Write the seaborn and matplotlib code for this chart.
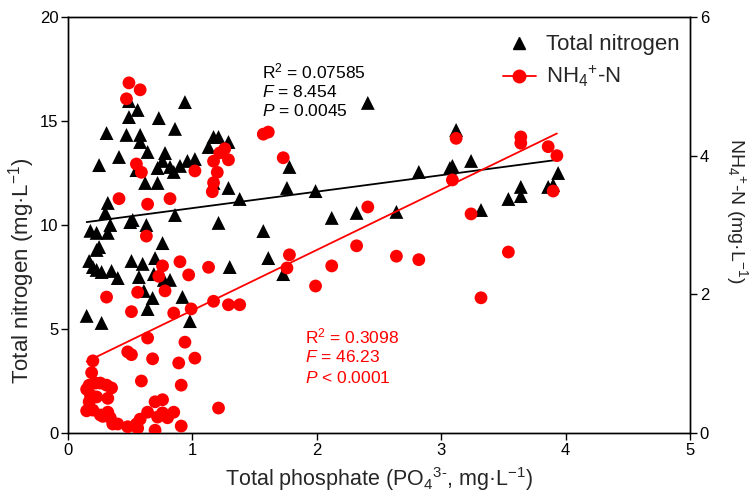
import matplotlib
matplotlib.use("Agg")
import matplotlib.pyplot as plt
from matplotlib.lines import Line2D
import seaborn as sns
import pandas as pd

# ---- data ----
tp_tn = [0.49, 0.56, 0.49, 0.73, 0.94, 0.31, 0.47, 0.58, 0.58, 0.86, 0.64, 0.41, 0.25, 0.78,
         0.76, 0.82, 0.72, 0.55, 0.90, 0.96, 1.02, 0.85, 0.62, 0.72, 1.17, 1.21, 1.13, 1.29,
         1.17, 1.29, 1.38, 0.32, 0.30, 0.18, 0.23, 0.34, 0.32, 0.50, 0.52, 0.63, 0.86, 1.21,
         1.57, 0.25, 0.23, 0.76, 0.17, 0.20, 0.23, 0.27, 0.35, 0.40, 0.51, 0.60, 0.70, 0.57,
         0.69, 0.77, 0.82, 0.61, 0.68, 0.64, 0.92, 0.98, 1.30, 1.61, 0.15, 0.27, 2.41, 1.78,
         1.76, 1.99, 2.82, 3.07, 2.12, 2.32, 2.64, 1.73, 3.12, 3.09, 3.24, 3.94, 3.86, 3.90,
         3.64, 3.64, 3.54, 3.32]
tn = [15.96, 15.53, 15.19, 15.14, 15.91, 14.42, 14.33, 14.33, 13.99, 14.62, 13.51, 13.27, 12.88, 13.46,
      13.08, 12.79, 12.74, 12.64, 12.84, 13.08, 13.17, 12.55, 12.02, 12.02, 14.23, 14.23, 13.75, 13.99,
      12.02, 11.78, 11.25, 11.06, 10.58, 9.72, 9.62, 10.00, 9.62, 10.14, 10.24, 10.00, 10.48, 10.10,
      9.71, 8.94, 8.80, 9.13, 8.27, 7.98, 7.84, 7.74, 7.79, 7.45, 8.27, 8.13, 8.41, 7.50,
      7.64, 7.36, 7.36, 6.83, 6.49, 5.96, 6.54, 5.38, 7.98, 8.41, 5.63, 5.29, 15.87, 12.79,
      11.78, 11.63, 12.55, 12.74, 10.34, 10.58, 10.63, 7.64, 14.57, 12.84, 13.08, 12.50, 11.83, 11.92,
      11.83, 11.39, 11.25, 10.72]

tp_nh4 = [0.49, 0.58, 0.47, 1.57, 1.61, 1.26, 1.22, 1.17, 1.29, 1.20, 1.02, 1.17, 1.16, 0.55,
          0.59, 1.73, 0.41, 0.64, 0.82, 2.41, 0.63, 0.76, 0.90, 1.13, 0.97, 0.73, 0.78, 0.56,
          0.31, 0.51, 0.85, 0.99, 1.17, 1.29, 1.38, 1.78, 1.76, 1.99, 2.12, 2.32, 2.64, 2.82,
          3.12, 3.64, 3.64, 3.86, 3.93, 3.09, 3.24, 3.90, 3.54, 3.32, 0.64, 0.94, 0.48, 0.51,
          0.68, 1.02, 0.89, 0.20, 0.19, 0.59, 0.91, 1.21, 0.17, 0.22, 0.26, 0.31, 0.35, 0.15,
          0.18, 0.23, 0.32, 0.17, 0.15, 0.20, 0.26, 0.32, 0.34, 0.36, 0.40, 0.48, 0.56, 0.58,
          0.64, 0.70, 0.76, 0.72, 0.70, 0.76, 0.80, 0.85, 0.91, 0.55, 0.28]
nh4 = [5.05, 4.95, 4.82, 4.31, 4.34, 4.10, 4.04, 3.92, 3.94, 3.76, 3.78, 3.61, 3.48, 3.88,
       3.76, 3.97, 3.38, 3.30, 3.38, 3.26, 2.84, 2.41, 2.47, 2.39, 2.28, 2.26, 2.05, 2.03,
       1.96, 1.75, 1.73, 1.79, 1.90, 1.85, 1.85, 2.57, 2.38, 2.12, 2.41, 2.70, 2.55, 2.50,
       4.25, 4.27, 4.18, 4.13, 4.00, 3.65, 3.16, 3.49, 2.61, 1.95, 1.37, 1.31, 1.17, 1.13,
       1.07, 1.08, 1.01, 1.04, 0.87, 0.75, 0.69, 0.36, 0.69, 0.72, 0.72, 0.69, 0.65, 0.63,
       0.55, 0.52, 0.50, 0.45, 0.32, 0.33, 0.26, 0.30, 0.22, 0.13, 0.13, 0.09, 0.07, 0.20,
       0.30, 0.45, 0.48, 0.23, 0.04, 0.29, 0.22, 0.30, 0.10, 0.13, 0.24]

# fitted regression lines (end points over the data range)
fit_tp = [0.15, 3.93]
tn_fit = [10.14, 13.13]
nh4_fit = [1.03, 4.32]

x_ticks = [0, 1, 2, 3, 4, 5]
tn_ticks = [0, 5, 10, 15, 20]
nh4_ticks = [0, 2, 4, 6]

tn_stats = ["R$^2$ = 0.07585", "$F$ = 8.454", "$P$ = 0.0045"]
nh4_stats = ["R$^2$ = 0.3098", "$F$ = 46.23", "$P$ < 0.0001"]

df_tn = pd.DataFrame({"tp": tp_tn, "tn": tn})
df_nh4 = pd.DataFrame({"tp": tp_nh4, "nh4": nh4})
df_fit = pd.DataFrame({"tp": fit_tp, "tn": tn_fit, "nh4": nh4_fit})

# ---- style ----
sns.set_theme(style="ticks")
plt.rcParams["font.family"] = ["Liberation Sans", "DejaVu Sans"]
plt.rcParams["mathtext.fontset"] = "custom"
plt.rcParams["mathtext.rm"] = "Liberation Sans"
plt.rcParams["mathtext.it"] = "Liberation Sans:italic"
plt.rcParams["mathtext.bf"] = "Liberation Sans:bold"
plt.rcParams["axes.linewidth"] = 1.0

fig = plt.figure(figsize=(7.5, 4.93), dpi=100)
ax = fig.add_axes([68 / 750, 1 - 433 / 493, 622 / 750, 416 / 493])
ax2 = ax.twinx()

sns.scatterplot(data=df_tn, x="tp", y="tn", ax=ax, marker="^", s=100, color="black",
                edgecolor="none", linewidth=0, zorder=3)
sns.lineplot(data=df_fit, x="tp", y="tn", ax=ax, color="black", lw=1.3, zorder=4)

sns.scatterplot(data=df_nh4, x="tp", y="nh4", ax=ax2, marker="o", s=85, color="#ff0000",
                edgecolor="none", linewidth=0, zorder=3)
sns.lineplot(data=df_fit, x="tp", y="nh4", ax=ax2, color="#ff0000", lw=1.3, zorder=4)

ax.set_xlim(0, 5)
ax.set_ylim(0, 20)
ax2.set_ylim(0, 6)
ax.set_xticks(x_ticks)
ax.set_yticks(tn_ticks)
ax2.set_yticks(nh4_ticks)
ax.set_xticklabels([str(v) for v in x_ticks])
ax.set_yticklabels([str(v) for v in tn_ticks])
ax2.set_yticklabels([str(v) for v in nh4_ticks])

for a in (ax, ax2):
    a.tick_params(direction="out", length=5, width=1, labelsize=12, colors="black", pad=2)
    for sp in a.spines.values():
        sp.set_visible(True)
        sp.set_color("black")
        sp.set_linewidth(1.0)

ax.set_xlabel("Total phosphate (PO$_4$$^{3\\text{-}}$, mg·L$^{-1}$)", fontsize=15.5, labelpad=5)
ax.set_ylabel("Total nitrogen (mg·L$^{-1}$)", fontsize=16, va="center")
ax.yaxis.set_label_coords(-0.074, 0.39)
ax2.set_ylabel("NH$_4$$^{+}$-N (mg·L$^{-1}$)", fontsize=14, rotation=-90, va="center")
ax2.yaxis.set_label_coords(1.075, 0.535)

for i, t in enumerate(tn_stats):
    ax.text(1.56, 17.36 - i * 0.95, t, fontsize=12.5, color="black", va="center", ha="left")
for i, t in enumerate(nh4_stats):
    ax.text(1.905, 4.66 - i * 1.0, t, fontsize=12.5, color="#ff0000", va="center", ha="left")

handles = [
    Line2D([], [], color="black", marker="^", linestyle="none", markersize=9),
    Line2D([], [], color="#ff0000", marker="o", linestyle="-", lw=1.3, markersize=9),
]
ax.legend(handles, ["Total nitrogen", "NH$_4$$^{+}$-N"], loc="upper right",
          bbox_to_anchor=(1.005, 0.99), frameon=False, fontsize=16, handlelength=1.5,
          handletextpad=0.45, labelspacing=0.4, borderaxespad=0.2)

fig.savefig("out.png", dpi=100)
